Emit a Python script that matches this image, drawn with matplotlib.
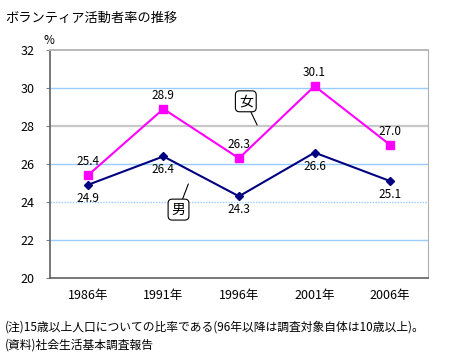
import matplotlib
matplotlib.use('Agg')
import matplotlib.pyplot as plt

plt.rcParams['font.family'] = ['Noto Sans CJK JP', 'DejaVu Sans']

# Data
years = ['1986年', '1991年', '1996年', '2001年', '2006年']
women = [25.4, 28.9, 26.3, 30.1, 27.0]
men = [24.9, 26.4, 24.3, 26.6, 25.1]

fig = plt.figure(figsize=(4.51, 3.64), dpi=100)
ax = fig.add_axes([50/451, 1-278/364, 378/451, 228/364])

x = list(range(len(years)))

# Gridlines
for y in [22, 26, 30]:
    ax.axhline(y, color='#99CCFF', lw=1, zorder=1)
ax.axhline(28, color='#C8C8C8', lw=1.6, zorder=1)
ax.axhline(24, color='#99CCFF', lw=1, ls=(0, (1, 1)), zorder=1)

ax.plot(x, women, color='#FF00FF', lw=1.5, marker='s', ms=5.5, zorder=3)
ax.plot(x, men, color='#000080', lw=1.5, marker='D', ms=4, zorder=3)

for i, v in enumerate(women):
    ax.annotate(f'{v:.1f}', (i, v), xytext=(0, 5), textcoords='offset points',
                ha='center', va='bottom', fontsize=8.5)
for i, v in enumerate(men):
    ax.annotate(f'{v:.1f}', (i, v), xytext=(0, -5), textcoords='offset points',
                ha='center', va='top', fontsize=8.5)

# Callouts
box = dict(boxstyle='round,pad=0.25,rounding_size=0.3', fc='white', ec='black', lw=0.8)
ax.annotate('女', xy=(2.24, 28.05), xytext=(2.09, 29.3), ha='center', va='center',
            fontsize=10, bbox=box, zorder=4,
            arrowprops=dict(arrowstyle='-', color='black', lw=0.8, shrinkA=0, shrinkB=0))
ax.annotate('男', xy=(1.33, 24.95), xytext=(1.2, 23.6), ha='center', va='center',
            fontsize=10, bbox=box, zorder=4,
            arrowprops=dict(arrowstyle='-', color='black', lw=0.8, shrinkA=0, shrinkB=0))

ax.set_xlim(-0.5, 4.5)
ax.set_ylim(20, 32)
ax.set_yticks([20, 22, 24, 26, 28, 30, 32])
ax.set_xticks(x)
ax.set_xticklabels(years)
ax.tick_params(axis='both', labelsize=9, length=3, color='#808080')
ax.tick_params(axis='x', length=0, pad=8)
ax.tick_params(axis='y', pad=8)

ax.spines['top'].set_color('#B8B8B8')
ax.spines['top'].set_linewidth(1.4)
ax.spines['right'].set_color('#B0B0B0')
ax.spines['right'].set_linestyle((0, (1, 1)))
for side in ['left', 'bottom']:
    ax.spines[side].set_color('#606060')
    ax.spines[side].set_linewidth(1.2)

fig.text(5/451, 1-18/364, 'ボランティア活動者率の推移', fontsize=9.5, va='center', ha='left')
fig.text(49/451, 1-41/364, '%', fontsize=8.5, va='center', ha='center')
fig.text(5/451, 1-327/364, '(注)15歳以上人口についての比率である(96年以降は調査対象自体は10歳以上)。',
         fontsize=8.5, va='center', ha='left')
fig.text(5/451, 1-345/364, '(資料)社会生活基本調査報告', fontsize=8.5, va='center', ha='left')

fig.savefig('out.png', dpi=100)
